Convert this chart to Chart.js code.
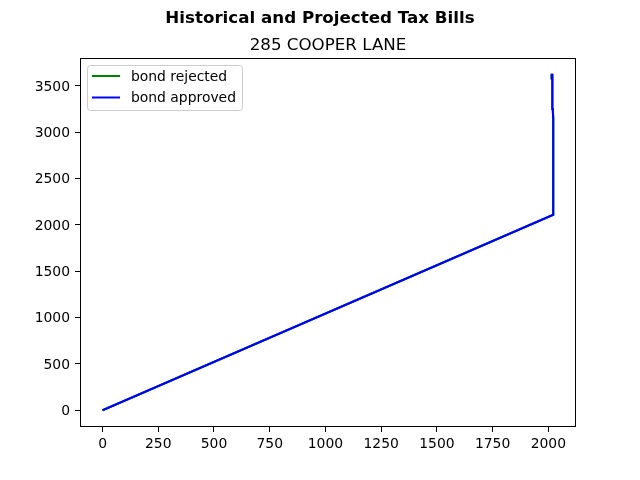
<!DOCTYPE html>
<html>
<head>
<meta charset="utf-8">
<script src="https://cdn.jsdelivr.net/npm/chart.js@4"></script>
<style>
html,body{margin:0;padding:0;background:#fff;}
#wrap{width:640px;height:480px;position:relative;}
</style>
</head>
<body>
<div id="wrap"><canvas id="c" width="640" height="480"></canvas></div>
<script>
// ---- data ----
const years = [0, 2022, 2023, 2022, 2021, 2020, 2019, 2018, 2017, 2016, 2015];
const bondRejected = [0, 2110, 2330, 2110, 3150, 3250, 3300, 3600, 3630, 3580, 3630];
const bondApproved = [0, 2110, 2330, 2110, 3150, 3250, 3300, 3600, 3630, 3580, 3630];
const xTicks = [0, 250, 500, 750, 1000, 1250, 1500, 1750, 2000];
const yTicks = [0, 500, 1000, 1500, 2000, 2500, 3000, 3500];
const seriesNames = ['bond rejected', 'bond approved'];
const seriesColors = ['#008000', '#0000ff'];
const suptitle = 'Historical and Projected Tax Bills';
const title = '285 COOPER LANE';

const FONT = "'DejaVu Sans', sans-serif";
function pts(xs, ys){ return xs.map((x,i)=>({x:x, y:ys[i]})); }

const frame = {
  id:'frame',
  afterDraw(chart){
    const ctx = chart.ctx, a = chart.chartArea;
    ctx.save();
    ctx.strokeStyle = '#000'; ctx.lineWidth = 1;
    ctx.strokeRect(Math.round(a.left)+0.5, Math.round(a.top)+0.5, Math.round(a.right-a.left)-1, Math.round(a.bottom-a.top)-1);
    // titles
    ctx.fillStyle = '#000';
    ctx.textAlign = 'center'; ctx.textBaseline = 'alphabetic';
    ctx.font = "bold 16.7px " + FONT;
    ctx.fillText(suptitle, 320, 23);
    ctx.font = "16.7px " + FONT;
    ctx.fillText(title, (a.left + a.right)/2, 50);
    // legend
    const lx = 87.5, ly = 65.5, lw = 155, lh = 45, r = 3;
    ctx.beginPath();
    ctx.moveTo(lx+r, ly); ctx.lineTo(lx+lw-r, ly); ctx.arcTo(lx+lw, ly, lx+lw, ly+r, r);
    ctx.lineTo(lx+lw, ly+lh-r); ctx.arcTo(lx+lw, ly+lh, lx+lw-r, ly+lh, r);
    ctx.lineTo(lx+r, ly+lh); ctx.arcTo(lx, ly+lh, lx, ly+lh-r, r);
    ctx.lineTo(lx, ly+r); ctx.arcTo(lx, ly, lx+r, ly, r);
    ctx.closePath();
    ctx.fillStyle = 'rgba(255,255,255,0.8)'; ctx.fill();
    ctx.strokeStyle = '#cccccc'; ctx.lineWidth = 1; ctx.stroke();
    ctx.font = "13.9px " + FONT;
    ctx.textAlign = 'left'; ctx.textBaseline = 'middle';
    seriesNames.forEach((n,i)=>{
      const y = 76 + i*21.5;
      ctx.strokeStyle = seriesColors[i]; ctx.lineWidth = 2;
      ctx.beginPath(); ctx.moveTo(92, y); ctx.lineTo(120, y); ctx.stroke();
      ctx.fillStyle = '#000';
      ctx.fillText(n, 131, y + 1);
    });
    ctx.restore();
  }
};

new Chart(document.getElementById('c'), {
  type: 'scatter',
  data: {
    datasets: [
      {label: seriesNames[0], order: 2, data: pts(years, bondRejected), showLine: true, borderColor: seriesColors[0], backgroundColor: seriesColors[0], borderWidth: 2.1, pointRadius: 0, tension: 0},
      {label: seriesNames[1], order: 1, data: pts(years, bondApproved), showLine: true, borderColor: seriesColors[1], backgroundColor: seriesColors[1], borderWidth: 2.1, pointRadius: 0, tension: 0}
    ]
  },
  plugins: [frame],
  options: {
    responsive: false,
    animation: false,
    devicePixelRatio: 1,
    layout: {padding: {left: 0, right: 64, top: 58, bottom: 0}},
    plugins: {legend: {display: false}, title: {display: false}, tooltip: {enabled: false}},
    scales: {
      x: {
        type: 'linear', min: -101.15, max: 2124.15,
        afterBuildTicks(s){ s.ticks = xTicks.map(v=>({value:v})); },
        afterFit(s){ s.height = 53; },
        grid: {drawOnChartArea: false, drawTicks: true, tickLength: 5, tickColor: '#000', lineWidth: 1},
        border: {display: false},
        ticks: {color: '#000', font: {family: FONT, size: 13.9}, padding: 4, maxRotation: 0, autoSkip: false, callback: v => String(v)}
      },
      y: {
        type: 'linear', min: -181, max: 3801,
        afterBuildTicks(s){ s.ticks = yTicks.map(v=>({value:v})); },
        afterFit(s){ s.width = 80; },
        grid: {drawOnChartArea: false, drawTicks: true, tickLength: 5, tickColor: '#000', lineWidth: 1},
        border: {display: false},
        ticks: {color: '#000', font: {family: FONT, size: 13.9}, padding: 5, labelOffset: 1, autoSkip: false, callback: v => String(v)}
      }
    }
  }
});
</script>
</body>
</html>
